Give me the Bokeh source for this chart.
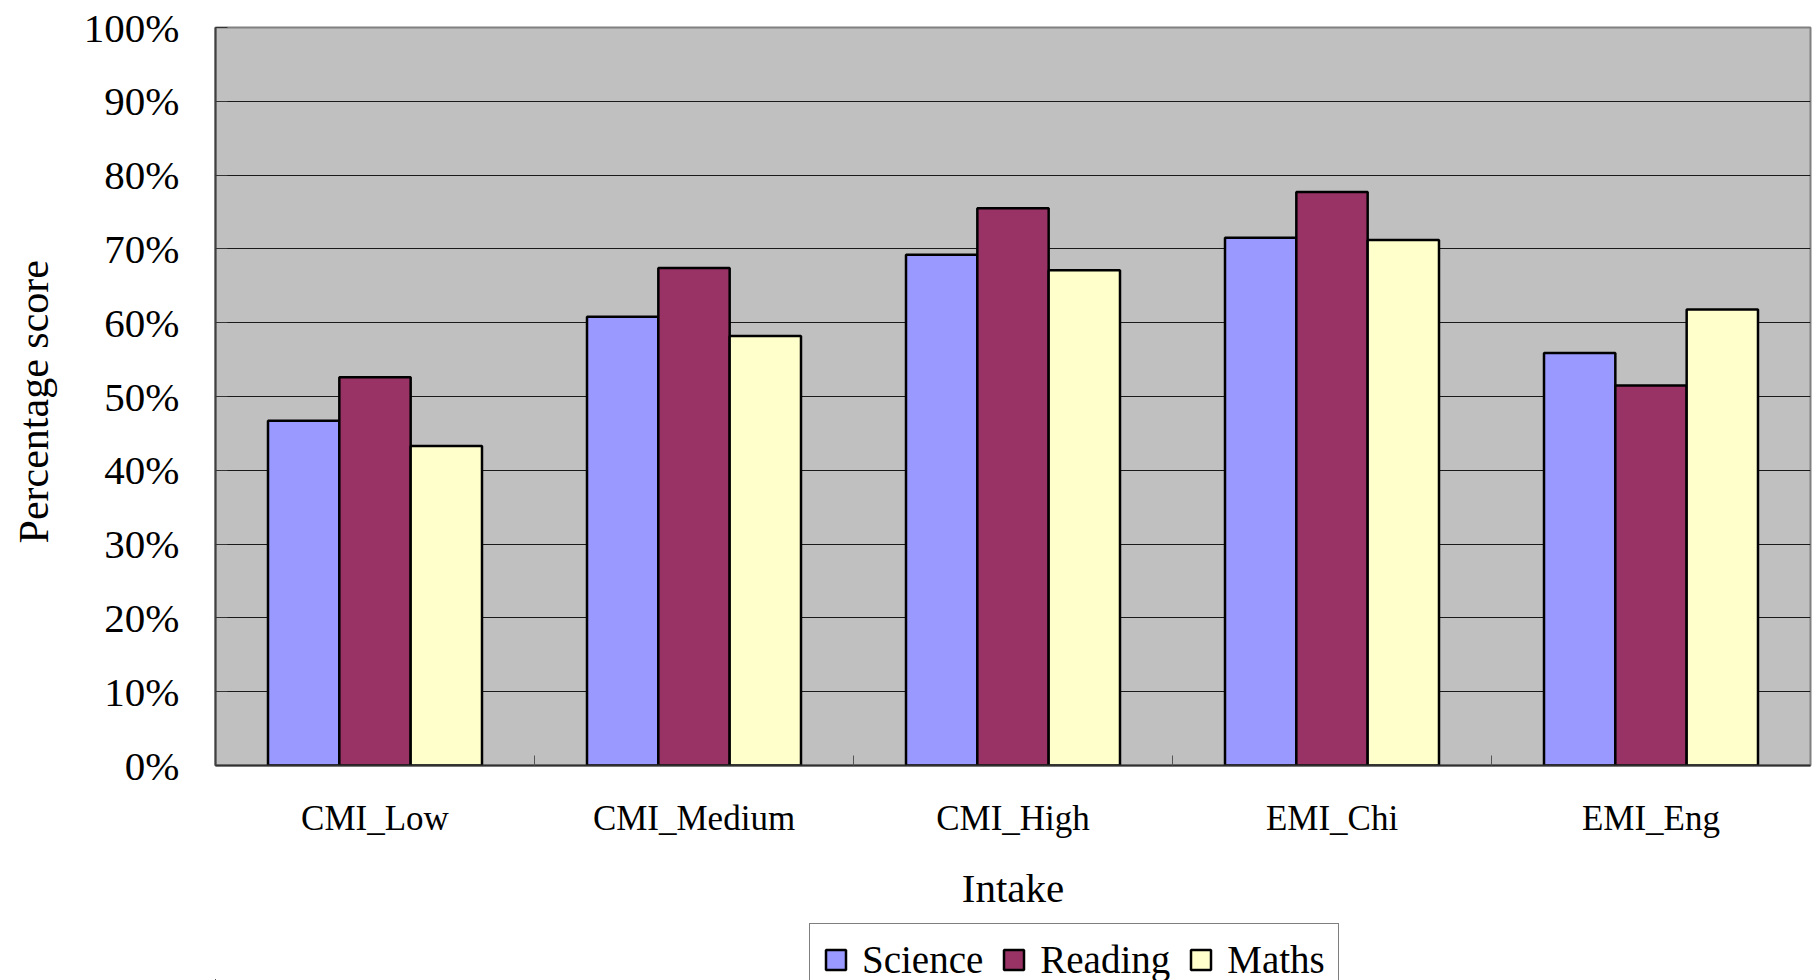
from bokeh.plotting import figure
from bokeh.layouts import column
from bokeh.models import (ColumnDataSource, Range1d, LinearAxis,
                          FixedTicker, PrintfTickFormatter, Legend, LegendItem)
from bokeh.embed import file_html
from bokeh.resources import INLINE

categories = ["CMI_Low", "CMI_Medium", "CMI_High", "EMI_Chi", "EMI_Eng"]
science = [46.7, 60.8, 69.2, 71.5, 55.9]
reading = [52.6, 67.4, 75.5, 77.7, 51.5]
maths = [43.3, 58.2, 67.1, 71.2, 61.8]
series_names = ["Science", "Reading", "Maths"]
series_values = [science, reading, maths]
series_colors = ["#9999FF", "#993366", "#FFFFCC"]
y_ticks = list(range(0, 101, 10))

FONT = "Liberation Serif"
n = len(categories)
centers = [i + 0.5 for i in range(n)]
bounds = list(range(1, n))

p = figure(width=1812, height=921,
           x_range=Range1d(0, n), y_range=Range1d(0, 100),
           x_axis_location=None,
           output_backend="svg", toolbar_location=None,
           min_border_left=215, min_border_top=27, min_border_right=2, min_border_bottom=156)

p.background_fill_color = "#C0C0C0"
p.border_fill_color = "white"
p.outline_line_color = "#808080"
p.outline_line_width = 2

bw = 0.2236
offsets = [-bw, 0.0, bw]
for name, vals, col, off in zip(series_names, series_values, series_colors, offsets):
    src = ColumnDataSource(dict(x=[c + off for c in centers], top=vals))
    p.vbar(x="x", top="top", width=bw, bottom=0, source=src,
           fill_color=col, line_color="black", line_width=2.5)

# y axis
yax = p.yaxis[0]
yax.ticker = FixedTicker(ticks=y_ticks)
yax.formatter = PrintfTickFormatter(format="%d%%")
yax.major_label_text_font = FONT
yax.major_label_text_font_size = "41px"
yax.major_label_text_color = "black"
yax.major_label_standoff = 36
yax.major_tick_in = 12
yax.major_tick_out = 0
yax.major_tick_line_color = "#333333"
yax.minor_tick_line_color = None
yax.axis_line_color = "#404040"
yax.axis_line_width = 2
yax.axis_label = "Percentage  score"
yax.axis_label_text_font = FONT
yax.axis_label_text_font_size = "42px"
yax.axis_label_text_font_style = "normal"
yax.axis_label_text_color = "black"
yax.axis_label_standoff = 24

p.ygrid.ticker = FixedTicker(ticks=y_ticks)
p.ygrid.grid_line_color = "#1a1a1a"
p.ygrid.grid_line_width = 1.2
p.xgrid.visible = False

# boundary tick axis (closest to frame)
tick_axis = LinearAxis(ticker=FixedTicker(ticks=bounds),
                       major_tick_in=10, major_tick_out=0, major_tick_line_color="#555555",
                       minor_tick_line_color=None, axis_line_color="#303030", axis_line_width=2,
                       major_label_overrides={t: "" for t in bounds},
                       major_label_text_font_size="0px", major_label_standoff=0)
p.add_layout(tick_axis, "below")

cat_axis = LinearAxis(ticker=FixedTicker(ticks=centers),
                      major_label_overrides={c: lab for c, lab in zip(centers, categories)},
                      axis_line_color=None, major_tick_line_color=None, minor_tick_line_color=None,
                      major_tick_in=0, major_tick_out=0,
                      major_label_text_font=FONT, major_label_text_font_size="35px",
                      major_label_text_color="black", major_label_standoff=33,
                      axis_label="Intake", axis_label_text_font=FONT,
                      axis_label_text_font_size="41px", axis_label_text_font_style="normal",
                      axis_label_text_color="black", axis_label_standoff=24)
p.add_layout(cat_axis, "below")

# legend strip below the chart (its lower part is cut off, as in the original)
lg = figure(width=1812, height=59, x_range=Range1d(0, 1), y_range=Range1d(0, 1),
            x_axis_location=None, y_axis_location=None,
            output_backend="svg", toolbar_location=None,
            min_border_left=0, min_border_right=0, min_border_top=0, min_border_bottom=0)
lg.outline_line_color = None
lg.background_fill_color = "white"
lg.border_fill_color = "white"
lg.xgrid.visible = False
lg.ygrid.visible = False

# legend-only proxy renderers (their single point lies outside the visible range)
proxies = []
for name, col in zip(series_names, series_colors):
    proxies.append(lg.vbar(x=[-50.0], top=[-50.0], bottom=-60.0, width=0.1, fill_color=col,
                           line_color="black", line_width=2.5))

legend = Legend(items=[LegendItem(label=nm, renderers=[r]) for nm, r in zip(series_names, proxies)],
                orientation="horizontal", location=(594, -16),
                label_text_font=FONT, label_text_font_size="39px", label_text_color="black",
                glyph_width=25, glyph_height=25, label_standoff=14, spacing=18,
                padding=13, margin=0, label_height=44,
                border_line_color="black", border_line_width=1.2,
                background_fill_color="white", background_fill_alpha=1.0)
lg.add_layout(legend)

layout = column(p, lg, spacing=0)
open("out.html", "w").write(file_html(layout, INLINE))
